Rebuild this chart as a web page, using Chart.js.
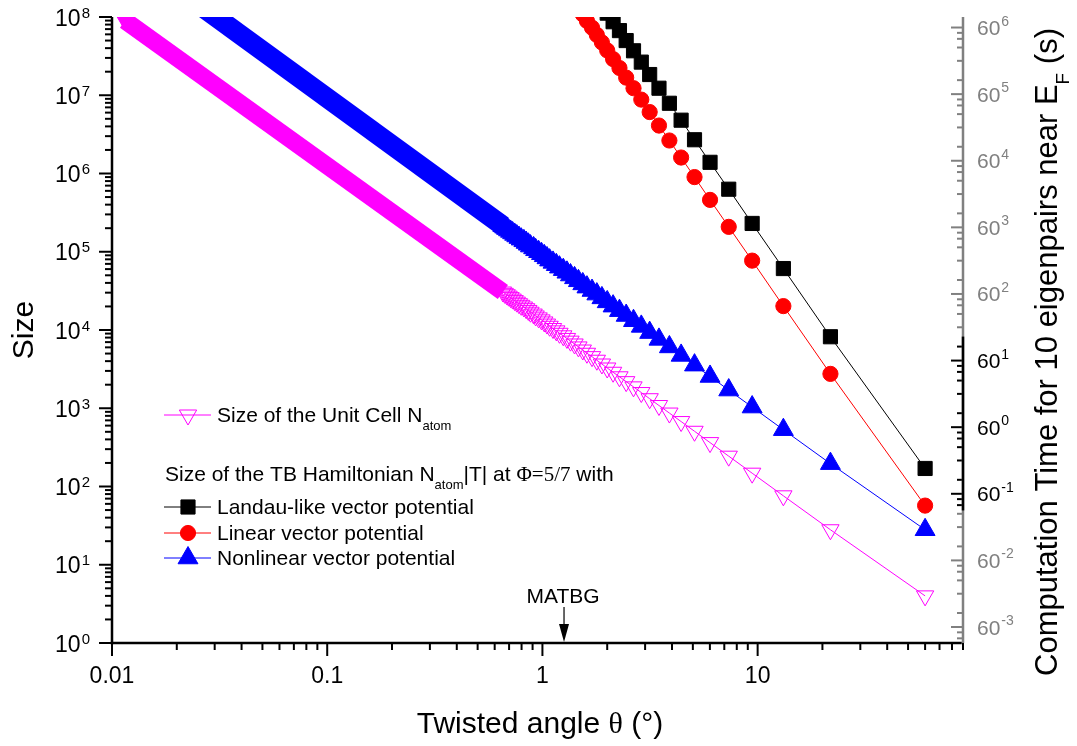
<!DOCTYPE html>
<html>
<head>
<meta charset="utf-8">
<script src="https://cdn.jsdelivr.net/npm/chart.js@4.4.1/dist/chart.umd.min.js"></script>
<style>
  html, body { margin: 0; padding: 0; background: #fff; }
  #wrap { width: 1077px; height: 746px; }
</style>
</head>
<body>
<div id="wrap"><canvas id="sizePlot" width="1077" height="746"></canvas></div>
<script>
// Size vs twisted angle, log-log, with a decorative base-60 time axis on the right

// resolved points (deg), largest angle first
const twistAngles = [60, 21.79, 13.17, 9.43, 7.34, 6.01, 5.09, 4.41, 3.89, 3.48, 3.15, 2.88, 2.65, 2.45,
  2.28, 2.13, 2.00, 1.89, 1.79, 1.70, 1.61, 1.54, 1.47, 1.41, 1.35, 1.30, 1.25, 1.20, 1.16, 1.12, 1.08,
  1.05, 1.02, 0.99, 0.96, 0.93, 0.91, 0.88, 0.86, 0.84, 0.82, 0.797, 0.778, 0.760, 0.743, 0.727, 0.711,
  0.696, 0.682, 0.668, 0.655];
const unitCellSize = [4, 28, 76, 148, 244, 364, 508, 676, 868, 1084, 1324, 1588, 1876, 2188, 2524, 2884,
  3268, 3676, 4108, 4564, 5044, 5548, 6076, 6628, 7204, 7804, 8428, 9076, 9748, 10444, 11164, 11908,
  12676, 13468, 14284, 15124, 15988, 16876, 17788, 18724, 19684, 20668, 21676, 22708, 23764, 24844,
  25948, 27076, 28228, 29404, 30604];
const nonlinearSize = [28, 196, 532, 1036, 1708, 2548, 3556, 4732, 6076, 7588, 9268, 11116, 13132, 15316,
  17668, 20188, 22876, 25732, 28756, 31948, 35308, 38836, 42532, 46396, 50428, 54628, 58996, 63532,
  68236, 73108, 78148, 83356, 88732, 94276, 99988, 105868, 111916, 118132, 124516, 131068, 137788,
  144676, 151732, 158956, 166348, 173908, 181636, 189532, 197596, 205828, 214228];
const landauSize = [170, 8200, 6.1e4, 2.3e5, 6.3e5, 1.39e6, 2.7e6, 4.8e6, 7.9e6, 1.23e7, 1.84e7, 2.65e7,
  3.7e7, 5.0e7, 6.7e7, 8.7e7, 1.12e8, 1.42e8];
const linearSize = [57, 2750, 2.02e4, 7.7e4, 2.08e5, 4.6e5, 9.0e5, 1.6e6, 2.64e6, 4.1e6, 6.1e6, 8.8e6,
  1.23e7, 1.68e7, 2.23e7, 2.9e7, 3.74e7, 4.73e7, 5.9e7, 7.3e7, 8.9e7, 1.08e8, 1.29e8];

// below ~0.65 deg the markers merge into one solid band
const unitCellBandAngles = [0.0115, 0.655];
const unitCellBandSize = [9.0e7, 30600];
const nonlinearBandAngles = [0.027, 0.655];
const nonlinearBandSize = [1.27e8, 2.14e5];

// axes
const xTickValues = [0.01, 0.1, 1, 10];
const xTickLabels = ['0.01', '0.1', '1', '10'];
const leftExponents = [0, 1, 2, 3, 4, 5, 6, 7, 8];
const rightExponents = [-3, -2, -1, 0, 1, 2, 3, 4, 5, 6];
const rightMinorSteps = [0.21, 0.5, 0.7, 0.83, 0.92];
const rightDarkExponents = [-1, 0, 1];
const matbgAngle = 1.26;

const SANS = '"Liberation Sans", Arial, sans-serif';
const SERIF = '"Liberation Serif", "Times New Roman", serif';

function toPoints(xs, ys) {
  return ys.map((v, i) => ({ x: xs[i], y: v }));
}

function markerSeries(xs, ys, color, style, radius, filled, rotation) {
  return {
    data: toPoints(xs, ys),
    showLine: true,
    borderColor: color,
    borderWidth: 1,
    pointStyle: style,
    pointRadius: radius,
    pointHoverRadius: radius,
    pointRotation: rotation || 0,
    pointBackgroundColor: filled ? color : 'rgba(0,0,0,0)',
    pointBorderColor: color,
    pointBorderWidth: 1
  };
}

function bandSeries(xs, ys, color, width, style, radius, rotation) {
  return {
    data: toPoints(xs, ys),
    showLine: true,
    borderColor: color,
    borderWidth: width,
    borderCapStyle: 'butt',
    pointStyle: style,
    pointRadius: [radius, 0],
    pointHoverRadius: [radius, 0],
    pointRotation: rotation || 0,
    pointBackgroundColor: color,
    pointBorderColor: color,
    pointBorderWidth: 1
  };
}

// text made of pieces (subscripts, serif symbols)
function drawPieces(ctx, pieces, x, y, size, align) {
  const fontFor = p => (p.sub ? Math.round(size * 0.62) : size) + 'px ' + (p.serif ? SERIF : SANS);
  let total = 0;
  pieces.forEach(p => { ctx.font = fontFor(p); p.w = ctx.measureText(p.t).width; total += p.w; });
  let cx = align === 'center' ? x - total / 2 : x;
  ctx.textAlign = 'left';
  ctx.textBaseline = 'alphabetic';
  pieces.forEach(p => {
    ctx.font = fontFor(p);
    ctx.fillText(p.t, cx, y + (p.sub ? size * 0.38 : 0));
    cx += p.w;
  });
}

function drawPower(ctx, base, exp, x, y, o) {
  ctx.font = o.supSize + 'px ' + SANS;
  const supW = ctx.measureText(exp).width;
  ctx.font = o.size + 'px ' + SANS;
  const baseW = ctx.measureText(base).width;
  const startX = o.align === 'right' ? x - baseW - supW - 1 : x;
  ctx.textAlign = 'left';
  ctx.textBaseline = 'alphabetic';
  ctx.fillStyle = o.color;
  ctx.fillText(base, startX, y + o.drop);
  ctx.font = o.supSize + 'px ' + SANS;
  ctx.fillText(exp, startX + baseW + 1, y + o.supDrop);
}

function tick(ctx, x1, y1, x2, y2) {
  ctx.beginPath();
  ctx.moveTo(x1, y1);
  ctx.lineTo(x2, y2);
  ctx.stroke();
}

function legendRow(ctx, y, color, style, radius, rotation, filled, pieces) {
  ctx.strokeStyle = color;
  ctx.lineWidth = 1;
  tick(ctx, 164, y, 211, y);
  ctx.fillStyle = filled ? color : 'rgba(0,0,0,0)';
  Chart.helpers.drawPoint(ctx, { pointStyle: style, radius: radius, rotation: rotation, borderWidth: 1 }, 188, y);
  ctx.fillStyle = '#000';
  drawPieces(ctx, pieces, 217, y + 7.3, 21, 'left');
}

const originAxes = {
  id: 'originAxes',
  afterDraw(chart) {
    const ctx = chart.ctx;
    const area = chart.chartArea;
    const xs = chart.scales.x, ys = chart.scales.y, rs = chart.scales.y2;
    ctx.save();
    ctx.lineCap = 'butt';

    // bottom axis
    ctx.strokeStyle = '#000';
    ctx.lineWidth = 2;
    xTickValues.forEach((d, i) => {
      const px = xs.getPixelForValue(d);
      tick(ctx, px, area.bottom, px, area.bottom + 13);
      for (let k = 2; k <= 9; k++) {
        if (k * d > 90.001) continue;
        const mx = xs.getPixelForValue(k * d);
        tick(ctx, mx, area.bottom, mx, area.bottom + 7);
      }
      ctx.fillStyle = '#000';
      ctx.font = '23px ' + SANS;
      ctx.textAlign = 'center';
      ctx.textBaseline = 'alphabetic';
      ctx.fillText(xTickLabels[i], px, area.bottom + 40);
    });

    // left axis
    leftExponents.forEach(e => {
      const py = ys.getPixelForValue(Math.pow(10, e));
      tick(ctx, area.left, py, area.left - 13, py);
      if (e < 8) {
        for (let k = 2; k <= 9; k++) {
          const my = ys.getPixelForValue(k * Math.pow(10, e));
          tick(ctx, area.left, my, area.left - 7, my);
        }
      }
      drawPower(ctx, '10', String(e), 90, py,
        { align: 'right', size: 23, supSize: 15, drop: 8.5, supDrop: 0.5, color: '#000' });
    });

    // right axis (base 60), grey with a dark middle stretch
    const darkTop = rs.getPixelForValue(Math.pow(60, 1.36));
    const darkBottom = rs.getPixelForValue(Math.pow(60, -1.25));
    const tickColor = py => (py >= darkTop && py <= darkBottom ? '#000' : '#808080');
    rightExponents.forEach(e => {
      const py = rs.getPixelForValue(Math.pow(60, e));
      ctx.strokeStyle = tickColor(py);
      tick(ctx, area.right, py, area.right - 12, py);
      rightMinorSteps.forEach(f => {
        const v = Math.pow(60, e + f);
        if (v > rs.max) return;
        const my = rs.getPixelForValue(v);
        ctx.strokeStyle = tickColor(my);
        tick(ctx, area.right, my, area.right - 6, my);
      });
      const dark = rightDarkExponents.indexOf(e) >= 0;
      drawPower(ctx, '60', String(e), 977, py,
        { align: 'left', size: 21, supSize: 14, drop: 7.5, supDrop: -2, color: dark ? '#000' : '#808080' });
    });
    const belowMin = Math.pow(60, -4);
    rightMinorSteps.forEach(f => {
      const v = belowMin * Math.pow(60, f);
      if (v < rs.min) return;
      const my = rs.getPixelForValue(v);
      ctx.strokeStyle = '#808080';
      tick(ctx, area.right, my, area.right - 6, my);
    });

    // axis lines
    ctx.lineWidth = 2.5;
    ctx.strokeStyle = '#808080';
    tick(ctx, area.right, area.top, area.right, area.bottom);
    ctx.strokeStyle = '#000';
    tick(ctx, area.right, darkTop, area.right, darkBottom);
    tick(ctx, area.left, area.top, area.left, area.bottom + 1.25);
    tick(ctx, area.left - 1.25, area.bottom, area.right - 1.25, area.bottom);

    // axis titles
    ctx.fillStyle = '#000';
    drawPieces(ctx, [{ t: 'Twisted angle ' }, { t: 'θ', serif: true }, { t: ' (°)' }], 540, 733, 30, 'center');
    ctx.save();
    ctx.translate(33, 330);
    ctx.rotate(-Math.PI / 2);
    drawPieces(ctx, [{ t: 'Size' }], 0, 0, 30, 'center');
    ctx.restore();
    ctx.save();
    ctx.translate(1057, 352);
    ctx.rotate(-Math.PI / 2);
    drawPieces(ctx, [{ t: 'Computation Time for 10 eigenpairs near E' }, { t: 'F', sub: true }, { t: ' (s)' }],
      0, 0, 31, 'center');
    ctx.restore();

    // MATBG marker
    const mx = xs.getPixelForValue(matbgAngle);
    ctx.strokeStyle = '#000';
    ctx.lineWidth = 1.2;
    tick(ctx, mx, 607, mx, 628);
    ctx.beginPath();
    ctx.moveTo(mx - 5, 624);
    ctx.lineTo(mx + 5, 624);
    ctx.lineTo(mx, area.bottom - 1);
    ctx.closePath();
    ctx.fillStyle = '#000';
    ctx.fill();
    ctx.font = '21px ' + SANS;
    ctx.textAlign = 'center';
    ctx.textBaseline = 'alphabetic';
    ctx.fillText('MATBG', mx - 1, 603);

    // legend
    legendRow(ctx, 415, '#ff00ff', 'triangle', 10, 180, false,
      [{ t: 'Size of the Unit Cell N' }, { t: 'atom', sub: true }]);
    ctx.fillStyle = '#000';
    drawPieces(ctx, [{ t: 'Size of the TB Hamiltonian N' }, { t: 'atom', sub: true }, { t: '|T| at ' },
      { t: 'Φ=5/7', serif: true }, { t: ' with' }], 165, 481, 21, 'left');
    legendRow(ctx, 507, '#000000', 'rect', 10, 0, true, [{ t: 'Landau-like vector potential' }]);
    legendRow(ctx, 533, '#ff0000', 'circle', 7.6, 0, true, [{ t: 'Linear vector potential' }]);
    legendRow(ctx, 558, '#0000ff', 'triangle', 11.5, 0, true, [{ t: 'Nonlinear vector potential' }]);

    ctx.restore();
  }
};

const config = {
  type: 'scatter',
  data: {
    datasets: [
      markerSeries(twistAngles.slice(0, landauSize.length), landauSize, '#000000', 'rect', 10, true),
      markerSeries(twistAngles.slice(0, linearSize.length), linearSize, '#ff0000', 'circle', 7.6, true),
      markerSeries(twistAngles, nonlinearSize, '#0000ff', 'triangle', 11.5, true),
      bandSeries(nonlinearBandAngles, nonlinearBandSize, '#0000ff', 20, 'triangle', 11.5, 0),
      markerSeries(twistAngles, unitCellSize, '#ff00ff', 'triangle', 10, false, 180),
      bandSeries(unitCellBandAngles, unitCellBandSize, '#ff00ff', 17.5, 'triangle', 10, 180)
    ]
  },
  options: {
    responsive: false,
    animation: false,
    devicePixelRatio: 1,
    layout: { padding: { left: 112, right: 114, top: 17, bottom: 103 } },
    plugins: { legend: { display: false }, tooltip: { enabled: false } },
    elements: { line: { tension: 0 } },
    scales: {
      x: { type: 'logarithmic', min: 0.01, max: 90, display: false },
      y: { type: 'logarithmic', min: 1, max: 1e8, display: false },
      y2: { type: 'logarithmic', position: 'right', min: Math.pow(60, -3.24), max: Math.pow(60, 6.158), display: false }
    }
  },
  plugins: [originAxes]
};

new Chart(document.getElementById('sizePlot'), config);
</script>
</body>
</html>
